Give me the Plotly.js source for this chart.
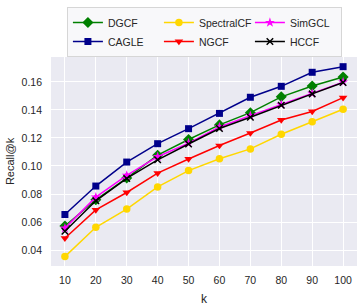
<!DOCTYPE html>
<html>
<head>
<meta charset="utf-8">
<script src="https://cdn.plot.ly/plotly-3.0.1.min.js"></script>
<style>html,body{margin:0;padding:0;background:#fff;}#chart{width:364px;height:306px;}</style>
</head>
<body>
<div id="chart"></div>
<script>
const kValues = [10, 20, 30, 40, 50, 60, 70, 80, 90, 100];
const dgcf       = [0.0572, 0.0759, 0.0914, 0.1077, 0.1189, 0.1293, 0.1380, 0.1493, 0.1570, 0.1635];
const cagle      = [0.0654, 0.0857, 0.1028, 0.1159, 0.1266, 0.1375, 0.1490, 0.1568, 0.1668, 0.1708];
const spectralcf = [0.0354, 0.0563, 0.0693, 0.0851, 0.0967, 0.1052, 0.1122, 0.1226, 0.1315, 0.1404];
const ngcf       = [0.0485, 0.0687, 0.0811, 0.0949, 0.1050, 0.1146, 0.1235, 0.1328, 0.1389, 0.1487];
const simgcl     = [0.0557, 0.0778, 0.0933, 0.1066, 0.1163, 0.1278, 0.1359, 0.1438, 0.1517, 0.1598];
const hccf       = [0.0535, 0.0752, 0.0911, 0.1044, 0.1157, 0.1267, 0.1348, 0.1433, 0.1514, 0.1595];
const xTicks = [10, 20, 30, 40, 50, 60, 70, 80, 90, 100];
const yTicks = [0.04, 0.06, 0.08, 0.10, 0.12, 0.14, 0.16];
const yTickLabels = ['0.04', '0.06', '0.08', '0.10', '0.12', '0.14', '0.16'];

const FONT = 'Liberation Sans, Arial, sans-serif';
function tr(name, y, color, symbol, size) {
  return {
    x: kValues, y: y, name: name, type: 'scatter', mode: 'lines+markers',
    line: {color: color, width: 1.5},
    marker: {color: color, symbol: symbol, size: size, line: {width: symbol === 'x-thin' ? 1.5 : 0, color: color}}
  };
}
// order chosen so horizontal legend reads in 3 columns like the reference
const data = [
  tr('DGCF', dgcf, '#008000', 'diamond', 8.5),
  tr('SpectralCF', spectralcf, '#FFD700', 'circle', 7.5),
  tr('SimGCL', simgcl, '#FF00FF', 'star', 7.5),
  tr('CAGLE', cagle, '#00008B', 'square', 7),
  tr('NGCF', ngcf, '#FF0000', 'triangle-down', 7.5),
  tr('HCCF', hccf, '#000000', 'x-thin', 6.5)
];
const layout = {
  width: 364, height: 306,
  margin: {l: 51, r: 7, t: 38, b: 40},
  paper_bgcolor: '#ffffff',
  plot_bgcolor: '#EAEAF2',
  font: {family: FONT, size: 10.5, color: '#262626'},
  showlegend: true,
  legend: {
    orientation: 'h', x: 0.052, xanchor: 'left', y: 1.0, yanchor: 'bottom',
    bgcolor: 'rgba(248,248,250,1)', bordercolor: '#d6d6d6', borderwidth: 1,
    font: {family: FONT, size: 10.5, color: '#262626'},
    traceorder: 'normal', entrywidth: 46, entrywidthmode: 'pixels'
  },
  xaxis: {
    range: [5.5, 104.5], tickvals: xTicks, ticktext: xTicks.map(String),
    showgrid: true, gridcolor: '#ffffff', gridwidth: 1, zeroline: false,
    showline: false, ticks: '', ticklabelstandoff: 6,
    title: {text: 'k', font: {family: FONT, size: 12, color: '#262626'}, standoff: 16}
  },
  yaxis: {
    range: [0.0287, 0.1777], tickvals: yTicks, ticktext: yTickLabels,
    showgrid: true, gridcolor: '#ffffff', gridwidth: 1, zeroline: false,
    showline: false, ticks: '', ticklabelstandoff: 8,
    title: {text: 'Recall@k', font: {family: FONT, size: 11, color: '#262626'}, standoff: 4}
  }
};
Plotly.newPlot('chart', data, layout, {displayModeBar: false, staticPlot: true});
</script>
</body>
</html>
